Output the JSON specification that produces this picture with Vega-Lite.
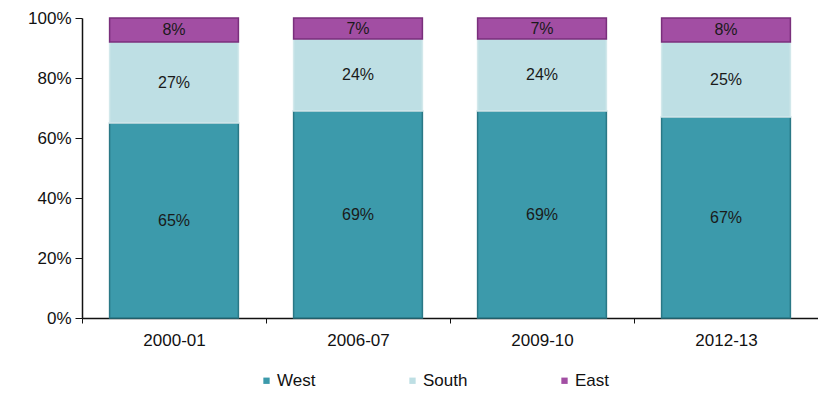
{
  "$schema": "https://vega.github.io/schema/vega-lite/v6.json",
  "width": 736,
  "height": 300,
  "autosize": {"type": "none"},
  "padding": {"left": 82, "top": 18, "right": 0, "bottom": 75},
  "background": "white",
  "config": {
    "view": {"stroke": null},
    "font": "Liberation Sans",
    "axis": {"labelFont": "Liberation Sans", "labelFontSize": 17, "labelColor": "#111", "domainColor": "#111", "tickColor": "#111", "grid": false, "title": null},
    "legend": {"labelFont": "Liberation Sans", "labelFontSize": 17, "labelColor": "#111"}
  },
  "data": {
    "values": [
      {"year": "2000-01", "region": "West", "ord": 1, "value": 65},
      {"year": "2000-01", "region": "South", "ord": 2, "value": 27},
      {"year": "2000-01", "region": "East", "ord": 3, "value": 8},
      {"year": "2006-07", "region": "West", "ord": 1, "value": 69},
      {"year": "2006-07", "region": "South", "ord": 2, "value": 24},
      {"year": "2006-07", "region": "East", "ord": 3, "value": 7},
      {"year": "2009-10", "region": "West", "ord": 1, "value": 69},
      {"year": "2009-10", "region": "South", "ord": 2, "value": 24},
      {"year": "2009-10", "region": "East", "ord": 3, "value": 7},
      {"year": "2012-13", "region": "West", "ord": 1, "value": 67},
      {"year": "2012-13", "region": "South", "ord": 2, "value": 25},
      {"year": "2012-13", "region": "East", "ord": 3, "value": 8}
    ]
  },
  "transform": [
    {"stack": "value", "groupby": ["year"], "sort": [{"field": "ord", "order": "ascending"}], "as": ["v0", "v1"]},
    {"calculate": "(datum.v0 + datum.v1) / 2", "as": "mid"},
    {"calculate": "datum.value + '%'", "as": "label"}
  ],
  "encoding": {
    "x": {
      "field": "year", "type": "nominal",
      "scale": {"paddingInner": 0, "paddingOuter": 0},
      "axis": {"labelAngle": 0, "tickBand": "extent", "tickSize": 5, "labelPadding": 9, "domainWidth": 1.5}
    }
  },
  "layer": [
    {
      "mark": {"type": "bar", "strokeWidth": 1.5, "width": {"band": 0.7}},
      "encoding": {
        "y": {
          "field": "v0", "type": "quantitative",
          "scale": {"domain": [0, 100], "nice": false},
          "axis": {"values": [0, 20, 40, 60, 80, 100], "labelExpr": "datum.value + '%'", "tickSize": 7, "labelPadding": 4, "domainWidth": 1.5}
        },
        "y2": {"field": "v1"},
        "color": {
          "field": "region", "type": "nominal",
          "scale": {"domain": ["West", "South", "East"], "range": ["#3c9aab", "#bedfe4", "#a24ea3"]},
          "legend": {"title": null, "orient": "none", "legendX": 176, "legendY": 354, "direction": "horizontal", "symbolType": "square", "symbolSize": 40, "columnPadding": 88, "labelOffset": 2, "symbolStrokeWidth": 0}
        },
        "stroke": {
          "field": "region", "type": "nominal",
          "scale": {"domain": ["West", "South", "East"], "range": ["#2a7886", "#d2e8eb", "#7a2f7c"]},
          "legend": null
        }
      }
    },
    {
      "mark": {"type": "text", "fontSize": 16, "color": "#1a1a1a", "baseline": "middle"},
      "encoding": {
        "y": {"field": "mid", "type": "quantitative"},
        "text": {"field": "label", "type": "nominal"},
        "detail": {"field": "region"}
      }
    }
  ]
}
